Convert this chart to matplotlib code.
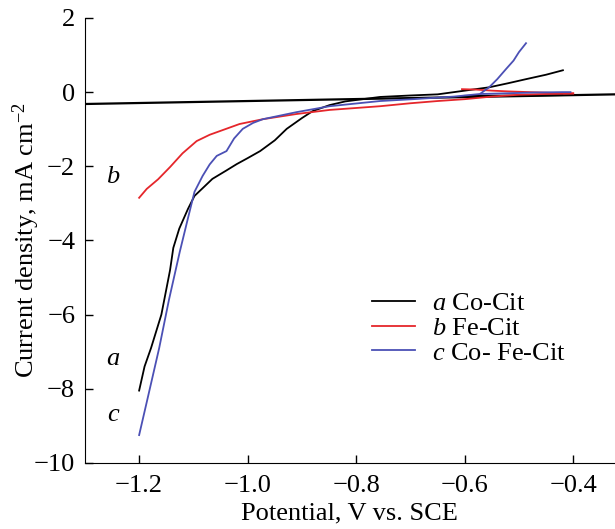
import matplotlib.pyplot as plt

plt.rcParams['font.family'] = 'Liberation Serif'
plt.rcParams['mathtext.fontset'] = 'custom'
plt.rcParams['mathtext.rm'] = 'Liberation Serif'
plt.rcParams['mathtext.it'] = 'Liberation Serif:italic'

# curve a, Co-Cit
a_v = [-1.2, -1.19, -1.178, -1.159, -1.143, -1.137, -1.126, -1.11, -1.098, -1.08, -1.065,
       -1.04, -1.02, -1.0, -0.977, -0.95, -0.928, -0.90, -0.88, -0.849, -0.82, -0.788,
       -0.756, -0.70, -0.65, -0.605, -0.58, -0.555, -0.52, -0.487, -0.45, -0.419]
a_i = [-8.05, -7.4, -6.9, -6.0, -4.8, -4.2, -3.68, -3.15, -2.80, -2.55, -2.34,
       -2.12, -1.94, -1.78, -1.59, -1.30, -0.99, -0.70, -0.51, -0.35, -0.25, -0.19,
       -0.13, -0.09, -0.06, 0.03, 0.08, 0.13, 0.24, 0.35, 0.47, 0.59]
a_back_v = [-0.6, -0.5, -0.42]
a_back_i = [-0.1, -0.09, -0.08]

# curve b, Fe-Cit
b_v = [-1.2, -1.186, -1.165, -1.143, -1.12, -1.094, -1.07, -1.051, -1.015, -0.972,
       -0.91, -0.849, -0.756, -0.70, -0.65, -0.60, -0.55, -0.50, -0.45, -0.40]
b_i = [-2.85, -2.61, -2.35, -2.02, -1.65, -1.32, -1.15, -1.05, -0.86, -0.73,
       -0.59, -0.48, -0.38, -0.30, -0.24, -0.19, -0.12, -0.07, -0.05, -0.04]
b_back_v = [-0.605, -0.58, -0.55, -0.52, -0.48, -0.44, -0.40]
b_back_i = [0.08, 0.07, 0.04, 0.02, 0.0, -0.02, -0.03]

# curve c, Co-Fe-Cit
c_v = [-1.2, -1.185, -1.163, -1.145, -1.125, -1.11, -1.098, -1.083, -1.07, -1.057,
       -1.039, -1.025, -1.009, -0.99, -0.972, -0.91, -0.849, -0.756, -0.695, -0.62,
       -0.572, -0.555, -0.54, -0.524, -0.51, -0.50, -0.487]
c_i = [-9.25, -8.3, -6.9, -5.6, -4.3, -3.4, -2.69, -2.26, -1.95, -1.72,
       -1.59, -1.25, -0.99, -0.83, -0.73, -0.54, -0.38, -0.24, -0.19, -0.12,
       -0.05, 0.13, 0.35, 0.62, 0.85, 1.08, 1.32]
c_back_v = [-0.57, -0.52, -0.47, -0.42, -0.405]
c_back_i = [-0.05, -0.03, -0.01, 0.0, 0.0]

# straight reference line
ref_v = [-1.3, -0.323]
ref_i = [-0.32, -0.06]

red = '#e5262b'
blue = '#4b50b5'
fs = 19

fig = plt.figure(figsize=(6.15, 5.29), dpi=100)
ax = fig.add_axes([0.138, 0.125, 0.862, 0.841])

ax.plot(ref_v, ref_i, color='black', lw=1.6)
ax.plot(a_v, a_i, color='black', lw=1.3, label=r'$\it{a}$ Co-Cit')
ax.plot(a_back_v, a_back_i, color='black', lw=1.3)
ax.plot(b_v, b_i, color=red, lw=1.3, label=r'$\it{b}$ Fe-Cit')
ax.plot(b_back_v, b_back_i, color=red, lw=1.3)
ax.plot(c_v, c_i, color=blue, lw=1.3, label=r'$\it{c}$ Co- Fe-Cit')
ax.plot(c_back_v, c_back_i, color=blue, lw=1.3)

ax.text(-1.248, -2.3, 'b', style='italic', fontsize=fs, ha='center', va='center')
ax.text(-1.248, -7.2, 'a', style='italic', fontsize=fs, ha='center', va='center')
ax.text(-1.248, -8.7, 'c', style='italic', fontsize=fs, ha='center', va='center')

ax.set_xlim(-1.3, -0.323)
ax.set_ylim(-10, 2)
ax.set_xticks([-1.2, -1.0, -0.8, -0.6, -0.4])
ax.set_xticklabels(['\u22121.2', '\u22121.0', '\u22120.8', '\u22120.6', '\u22120.4'])
ax.set_yticks([-10, -8, -6, -4, -2, 0, 2])
ax.set_yticklabels(['\u221210', '\u22128', '\u22126', '\u22124', '\u22122', '0', '2'])
ax.tick_params(direction='in', length=6, width=1, labelsize=fs)
ax.tick_params(axis='x', pad=9)
ax.tick_params(axis='y', pad=7)
ax.spines['top'].set_visible(False)
ax.spines['right'].set_visible(False)

ax.set_xlabel('Potential, V vs. SCE', fontsize=fs, labelpad=4)
ax.set_ylabel(r'Current density, mA cm$^{-2}$', fontsize=fs, labelpad=-6)

ax.legend(loc='upper left', bbox_to_anchor=(0.5415, 0.385), frameon=False, fontsize=fs,
          handlelength=1.63, handletextpad=0.65, labelspacing=0.05,
          borderpad=0, borderaxespad=0)

fig.savefig('out.png', dpi=100)
